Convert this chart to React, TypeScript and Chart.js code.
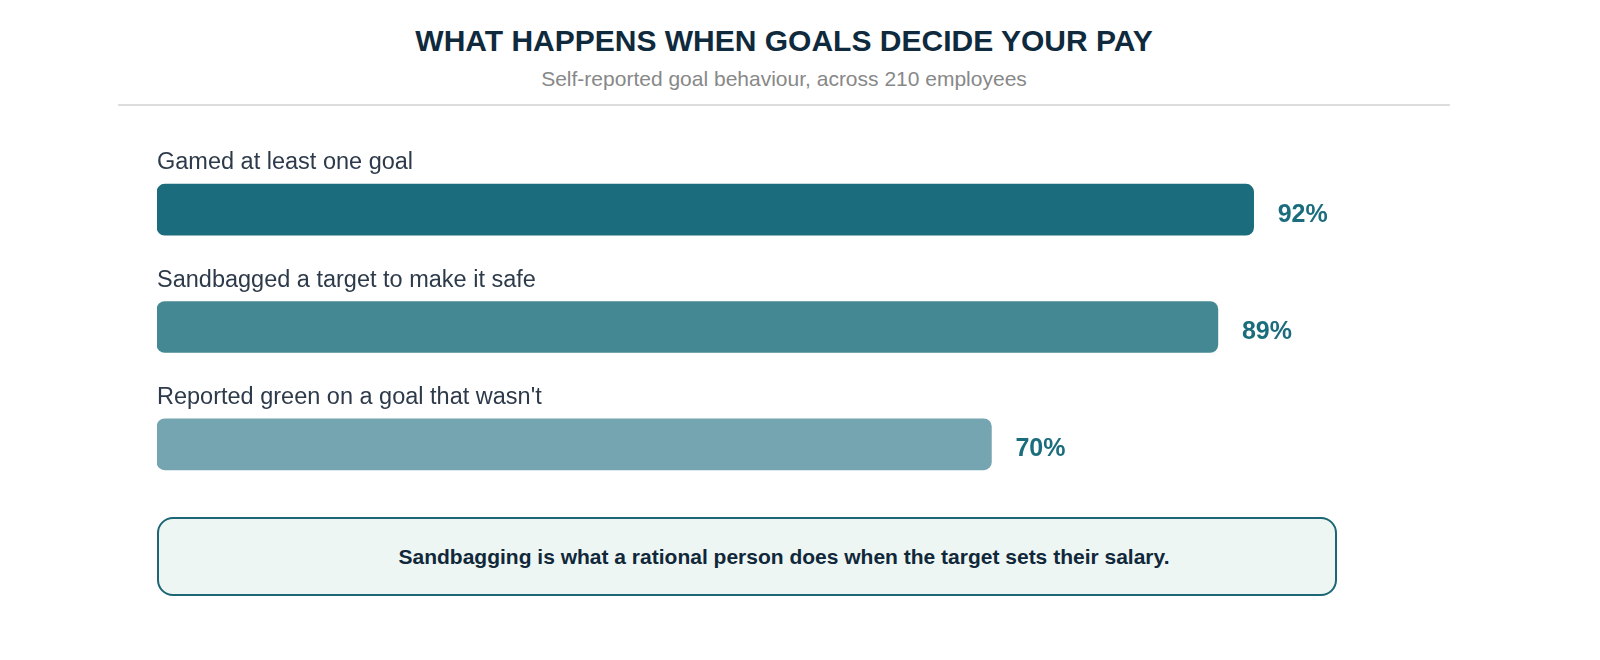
import React, { useEffect, useRef } from 'react';
import { Chart, registerables, Plugin } from 'chart.js';

Chart.register(...registerables);

// Survey results (share of 210 employees)
const behaviours = [
  'Gamed at least one goal',
  'Sandbagged a target to make it safe',
  "Reported green on a goal that wasn't",
];
const shares = [92, 89, 70];
const barColors = ['#1b6c7c', '#448893', '#74a5b0'];

const FONT = '"Liberation Sans", Arial, Helvetica, sans-serif';

// Draws the behaviour label above each bar and the percentage to its right
const barLabels: Plugin<'bar'> = {
  id: 'barLabels',
  afterDatasetsDraw(chart) {
    const { ctx } = chart;
    const meta = chart.getDatasetMeta(0);
    ctx.save();
    meta.data.forEach((bar: any, i) => {
      const { x, y, base, height } = bar.getProps(['x', 'y', 'base', 'height'], true);
      const top = y - height / 2;

      ctx.font = `23.5px ${FONT}`;
      ctx.fillStyle = '#2d3a4a';
      ctx.textAlign = 'left';
      ctx.textBaseline = 'alphabetic';
      ctx.fillText(behaviours[i], base, top - 15);

      ctx.font = `bold 25px ${FONT}`;
      ctx.fillStyle = '#1b6c7c';
      ctx.textBaseline = 'middle';
      ctx.fillText(`${shares[i]}%`, x + 24, y + 5);
    });
    ctx.restore();
  },
};

const GoalBehaviourChart: React.FC = () => {
  const canvasRef = useRef<HTMLCanvasElement | null>(null);
  const chartInstance = useRef<Chart | null>(null);

  useEffect(() => {
    if (!canvasRef.current) return;
    const ctx = canvasRef.current.getContext('2d');
    if (!ctx) return;

    chartInstance.current = new Chart(ctx, {
      type: 'bar',
      data: {
        labels: behaviours,
        datasets: [
          {
            data: shares,
            backgroundColor: barColors,
            borderRadius: 8,
            borderSkipped: false,
            barThickness: 51,
          },
        ],
      },
      options: {
        indexAxis: 'y',
        animation: false,
        responsive: true,
        maintainAspectRatio: false,
        layout: { padding: { left: 39, right: 101, top: 31, bottom: 7 } },
        scales: {
          x: { min: 0, max: 100, display: false },
          y: { display: false },
        },
        plugins: {
          legend: { display: false },
          tooltip: { enabled: false },
        },
      },
      plugins: [barLabels],
    });

    return () => {
      if (chartInstance.current) {
        chartInstance.current.destroy();
        chartInstance.current = null;
      }
    };
  }, []);

  return (
    <div style={{ position: 'absolute', left: 110, top: 112, width: 1332, height: 390 }}>
      <canvas ref={canvasRef}></canvas>
    </div>
  );
};

export default function App() {
  return (
    <div style={{ position: 'relative', width: 1584, height: 644, fontFamily: FONT }}>
      <div
        style={{
          position: 'absolute',
          left: 110,
          top: 16,
          width: 1332,
          textAlign: 'center',
          fontSize: 30,
          fontWeight: 'bold',
          color: '#0f2a3d',
          lineHeight: '34px',
        }}
      >
        WHAT HAPPENS WHEN GOALS DECIDE YOUR PAY
      </div>
      <div
        style={{
          position: 'absolute',
          left: 110,
          top: 59,
          width: 1332,
          textAlign: 'center',
          fontSize: 21,
          color: '#888888',
          lineHeight: '24px',
        }}
      >
        Self-reported goal behaviour, across 210 employees
      </div>
      <div
        style={{
          position: 'absolute',
          left: 110,
          top: 96,
          width: 1332,
          height: 2,
          background: '#dddddd',
        }}
      />
      <GoalBehaviourChart />
      <div
        style={{
          position: 'absolute',
          left: 149,
          top: 509,
          width: 1180,
          height: 79,
          boxSizing: 'border-box',
          border: '2px solid #1d6675',
          borderRadius: 16,
          background: '#eef6f3',
          display: 'flex',
          alignItems: 'center',
          justifyContent: 'center',
          paddingLeft: 74,
          fontSize: 21,
          fontWeight: 'bold',
          color: '#10283a',
        }}
      >
        Sandbagging is what a rational person does when the target sets their salary.
      </div>
    </div>
  );
}
